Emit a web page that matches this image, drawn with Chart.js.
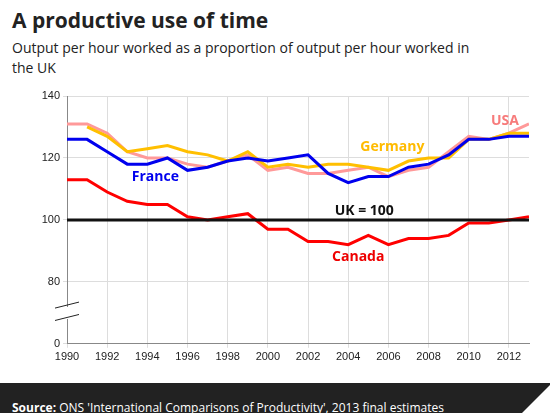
<!DOCTYPE html>
<html>
<head>
<meta charset="utf-8">
<script src="https://cdn.jsdelivr.net/npm/chart.js@4/dist/chart.umd.min.js"></script>
<style>
  body { margin: 0; width: 550px; height: 413px; overflow: hidden; background: #fff; font-family: "Open Sans", sans-serif; position: relative; }
  h1 { position: absolute; left: 12px; top: 6px; margin: 0; font-size: 21px; font-weight: bold; color: #222; }
  .sub { position: absolute; left: 12px; top: 38px; width: 470px; font-size: 14px; line-height: 20px; color: #222; }
  #wrap { position: absolute; left: 0; top: 84px; width: 550px; height: 283px; }
  .foot { position: absolute; left: 0; top: 383px; width: 550px; height: 30px; background: #222; color: #fff; font-size: 12px; line-height: 50px; padding-left: 12px; box-sizing: border-box; overflow: hidden; }
  .tri { position: absolute; right: 0; bottom: 0; width: 0; height: 0; border-left: 28px solid transparent; border-bottom: 28px solid #fff; }
</style>
</head>
<body>
<h1>A productive use of time</h1>
<div class="sub">Output per hour worked as a proportion of output per hour worked in the UK</div>
<div id="wrap"><canvas id="chart"></canvas></div>
<div class="foot"><b>Source:</b> ONS 'International Comparisons of Productivity', 2013 final estimates<div class="tri"></div></div>
<script>
const years = [1990, 1991, 1992, 1993, 1994, 1995, 1996, 1997, 1998, 1999, 2000, 2001,
    2002, 2003, 2004, 2005, 2006, 2007, 2008, 2009, 2010, 2011, 2012, 2013];
const france = [126, 126, 122, 118, 118, 120, 116, 117, 119, 120, 119, 120, 121, 115, 112, 114, 114, 117, 118, 121, 126, 126, 127, 127];
const germany = [null, 130, 127, 122, 123, 124, 122, 121, 119, 122, 117, 118, 117, 118, 118, 117, 116, 119, 120, 120, 126, 126, 128, 128];
const usa = [131, 131, 128, 122, 120, 120, 118, 117, 119, 121, 116, 117, 115, 115, 116, 117, 114, 116, 117, 122, 127, 126, 128, 131];
const canada = [113, 113, 109, 106, 105, 105, 101, 100, 101, 102, 97, 97, 93, 93, 92, 95, 92, 94, 94, 95, 99, 99, 100, 101];
const uk = years.map(() => 100);
const xTicks = [1990, 1992, 1994, 1996, 1998, 2000, 2002, 2004, 2006, 2008, 2010, 2012];

const labels = [
    { text: 'France', x: 1994.4, y: 114, color: '#0000ee' },
    { text: 'Germany', x: 2006.2, y: 123.5, color: '#ffbb00' },
    { text: 'USA', x: 2011.8, y: 132, color: '#f77b7b' },
    { text: 'Canada', x: 2004.5, y: 88, color: '#ee0000' },
    { text: 'UK = 100', x: 2004.8, y: 103, color: '#111' }
];

function series(data, color) {
    return {
        data: data.map((v, i) => ({ x: years[i], y: v })),
        borderColor: color, borderWidth: 3, pointRadius: 0, fill: false, tension: 0
    };
}

const extras = {
    id: 'extras',
    afterDatasetsDraw(chart) {
        const { ctx, scales: { x, y } } = chart;
        ctx.save();
        ctx.font = 'bold 14px "Open Sans", sans-serif';
        ctx.textAlign = 'center';
        ctx.textBaseline = 'middle';
        for (const l of labels) {
            ctx.fillStyle = l.color;
            ctx.fillText(l.text, x.getPixelForValue(l.x), y.getPixelForValue(l.y));
        }
        // axis break marks
        const x0 = x.left;
        ctx.strokeStyle = '#222';
        ctx.lineWidth = 1;
        ctx.clearRect(x0 - 2, y.getPixelForValue(72), 4, 12);
        for (const v of [72.5, 68.5]) {
            const py = y.getPixelForValue(v);
            ctx.beginPath();
            ctx.moveTo(x0 - 12, py + 3);
            ctx.lineTo(x0 + 12, py - 3);
            ctx.stroke();
        }
        ctx.restore();
    }
};

new Chart(document.getElementById('chart'), {
    type: 'line',
    data: {
        datasets: [
            series(uk, '#111'),
            series(canada, '#ff0000'),
            series(france, '#0000ee'),
            series(germany, '#ffbf00'),
            series(usa, '#ff9999')
        ]
    },
    options: {
        responsive: true,
        maintainAspectRatio: false,
        animation: false,
        layout: { padding: { left: 0, right: 21, top: 12 } },
        plugins: { legend: { display: false }, tooltip: { enabled: false } },
        scales: {
            x: {
                type: 'linear', min: 1990, max: 2013,
                grid: { color: '#ddd', tickLength: 4 },
                border: { color: '#888' },
                afterBuildTicks: s => { s.ticks = xTicks.map(v => ({ value: v })); },
                ticks: { autoSkip: false, maxRotation: 0, color: '#222', font: { size: 11 }, callback: v => String(v) }
            },
            y: {
                min: 60, max: 140,
                grid: { color: '#ddd', tickLength: 4 },
                border: { color: '#888' },
                afterFit: s => { s.width = 67; },
                ticks: {
                    stepSize: 20, color: '#222', font: { size: 11 },
                    callback: v => v === 60 ? '0' : String(v)
                }
            }
        }
    },
    plugins: [extras]
});
</script>
</body>
</html>
